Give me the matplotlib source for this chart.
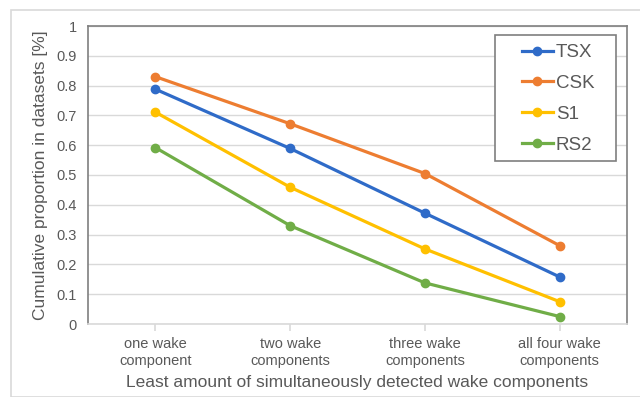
import matplotlib.pyplot as plt
from matplotlib.patches import Rectangle

plt.rcParams['font.family'] = ['Liberation Sans', 'DejaVu Sans']

# -----------------------------
# Data
# -----------------------------
categories = ["one wake\ncomponent", "two wake\ncomponents",
              "three wake\ncomponents", "all four wake\ncomponents"]
tsx = [0.788, 0.589, 0.372, 0.158]
csk = [0.830, 0.672, 0.505, 0.263]
s1 = [0.711, 0.459, 0.252, 0.075]
rs2 = [0.592, 0.330, 0.138, 0.025]

series = [("TSX", tsx, "#2F6BC8"), ("CSK", csk, "#ED7D31"),
          ("S1", s1, "#FFC000"), ("RS2", rs2, "#70AD47")]

TEXT = "#595959"

fig = plt.figure(figsize=(6.4, 3.97), dpi=100)
ax = fig.add_axes([88 / 640, 1 - 324 / 397, 539 / 640, 298 / 397])

# outer chart border
fig.patches.append(Rectangle((11 / 640, 0), 1, 1 - 10 / 397, transform=fig.transFigure,
                             fill=False, edgecolor="#D9D9D9", lw=1.2))

x = range(len(categories))
for name, vals, color in series:
    ax.plot(x, vals, color=color, lw=2.3, marker="o", markersize=6, label=name)

ax.set_xlim(-0.5, 3.5)
ax.set_ylim(0, 1)
ax.set_yticks([i / 10 for i in range(11)])
ax.set_yticklabels(["0"] + [f"{i / 10:.1f}" for i in range(1, 10)] + ["1"])
ax.set_xticks(list(x))
ax.set_xticklabels(categories, linespacing=1.3)
ax.grid(axis="y", color="#D9D9D9", lw=1)
ax.set_axisbelow(True)

for side in ["left", "top", "right"]:
    ax.spines[side].set_color("#7F7F7F")
    ax.spines[side].set_linewidth(1.2)
ax.spines["bottom"].set_color("#D9D9D9")
ax.spines["bottom"].set_linewidth(1.2)

ax.tick_params(axis="y", length=0, labelsize=10.5, labelcolor=TEXT, pad=8)
ax.tick_params(axis="x", length=5, color="#D9D9D9", width=1.2,
               labelsize=10.5, labelcolor=TEXT, pad=4)

ax.set_xlabel("Least amount of simultaneously detected wake components",
              fontsize=12.5, color=TEXT, labelpad=5)
ax.set_ylabel("Cumulative proportion in datasets [%]", fontsize=12.5,
              color=TEXT, labelpad=6)

# legend box drawn separately, entries without frame on top
ax.add_patch(Rectangle((495 / 640, 1 - 161 / 397), 121 / 640, 126 / 397,
                       transform=fig.transFigure, facecolor="white",
                       edgecolor="#7F7F7F", lw=1.2, zorder=4, clip_on=False))
leg = ax.legend(loc="upper left", bbox_to_anchor=(522 / 640, 1 - 44 / 397),
                bbox_transform=fig.transFigure, fontsize=13.5, frameon=False,
                handlelength=1.65, handletextpad=0.16,
                labelspacing=0.73, borderpad=0, borderaxespad=0)
leg.set_zorder(5)
for t in leg.get_texts():
    t.set_color(TEXT)

fig.savefig("out.png", dpi=100)
